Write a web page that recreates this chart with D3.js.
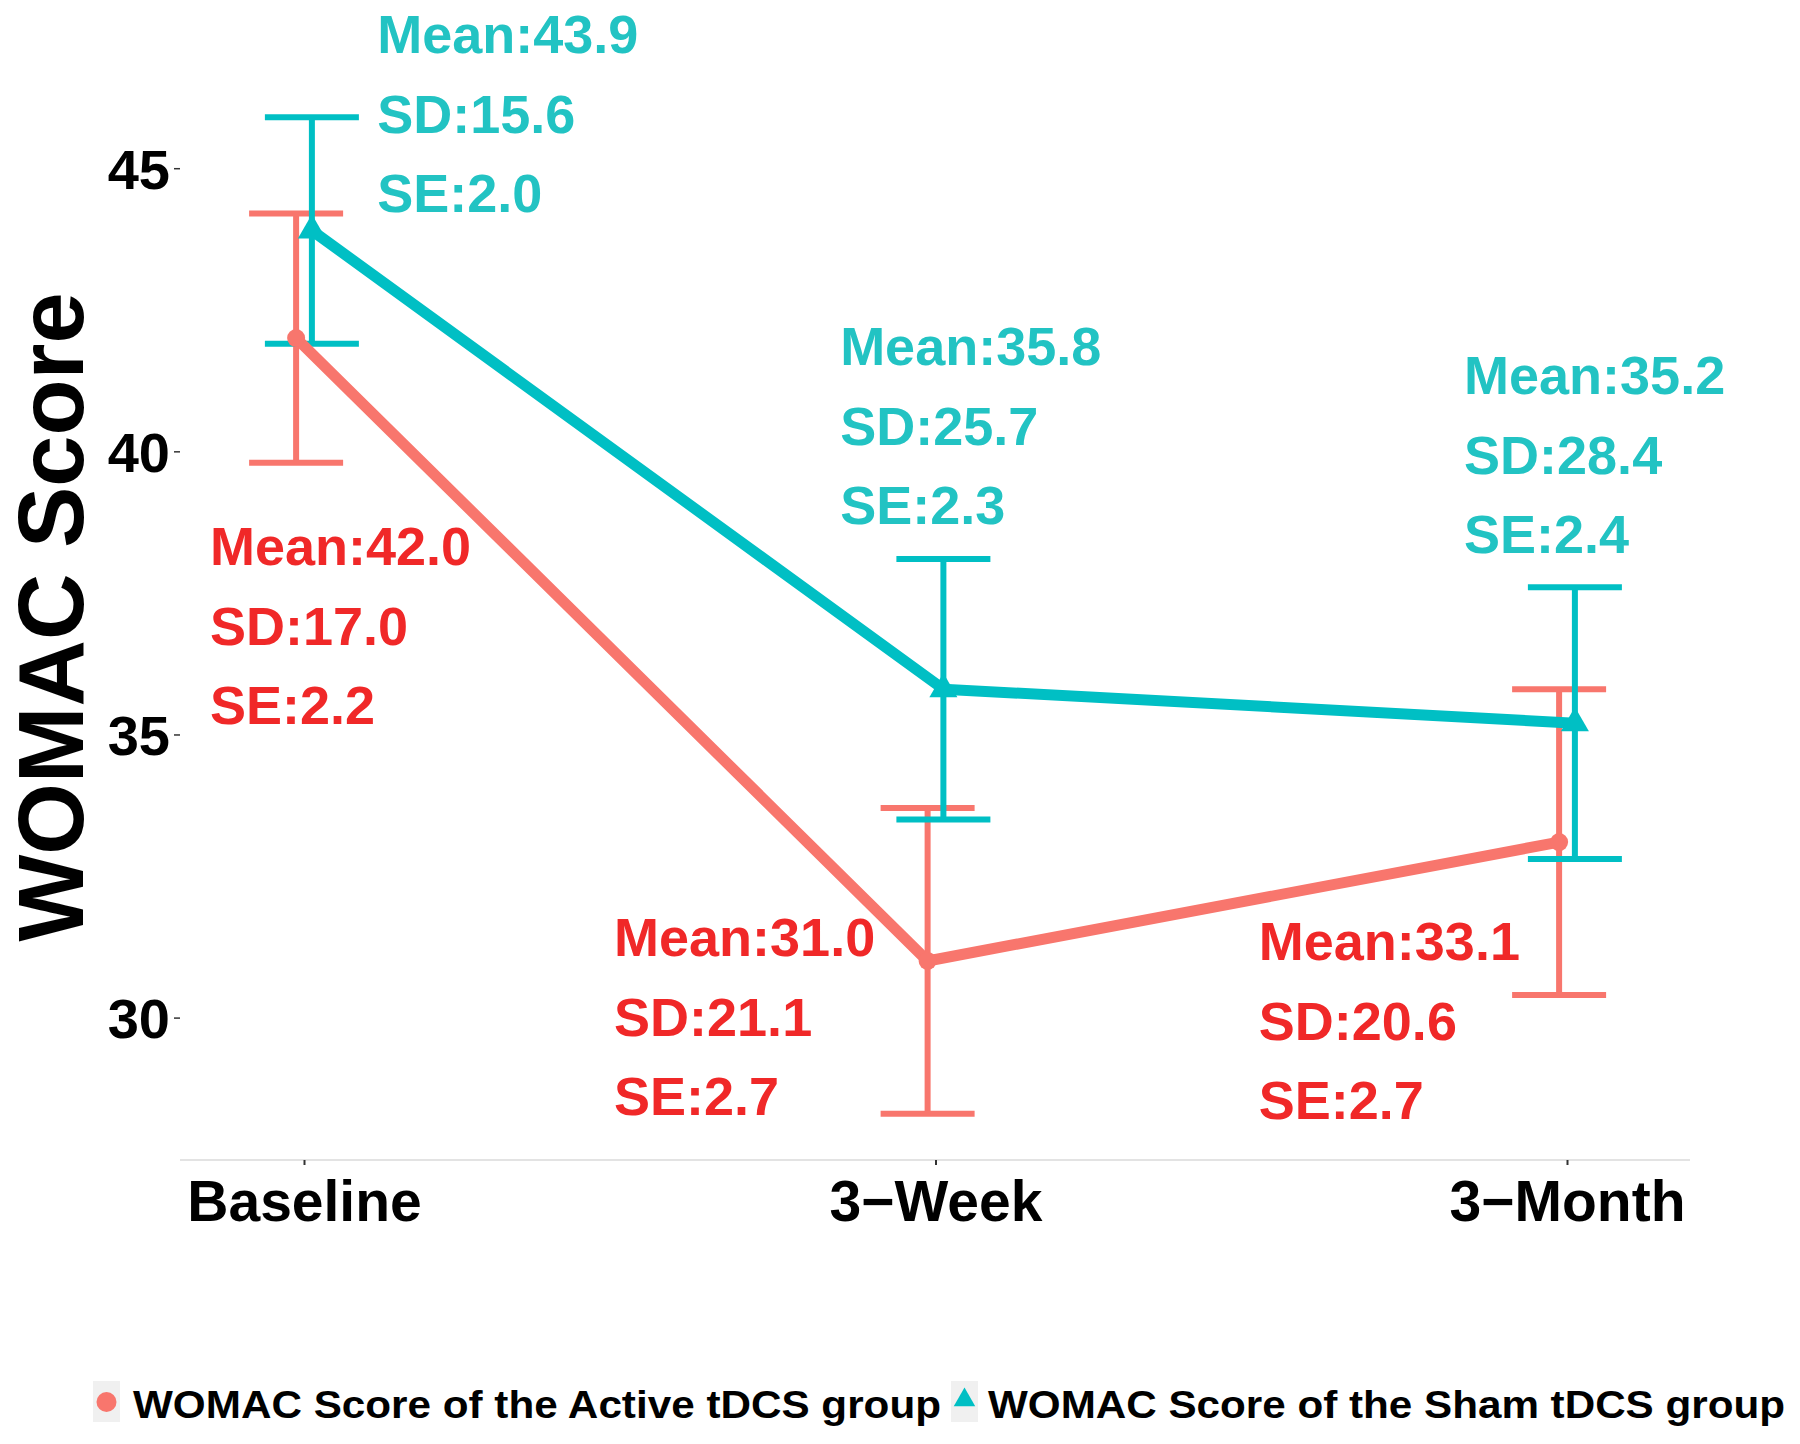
<!DOCTYPE html>
<html>
<head>
<meta charset="utf-8">
<script src="https://cdn.jsdelivr.net/npm/d3@7"></script>
<style>
  html, body { margin: 0; padding: 0; background: #ffffff; }
  svg text { font-family: "Liberation Sans", Arial, sans-serif; font-weight: bold; }
</style>
</head>
<body>
<svg id="chart" width="1800" height="1444"></svg>
<script>
// ---- data ----
const categories = ["Baseline", "3\u2212Week", "3\u2212Month"];
const activeMean = [42.0, 31.0, 33.1];
const activeSD   = [17.0, 21.1, 20.6];
const activeSE   = [2.2, 2.7, 2.7];
const shamMean   = [43.9, 35.8, 35.2];
const shamSD     = [15.6, 25.7, 28.4];
const shamSE     = [2.0, 2.3, 2.4];
const yTicks     = [30, 35, 40, 45];
const legendLabels = ["WOMAC Score of the Active tDCS group", "WOMAC Score of the Sham tDCS group"];
// annotation anchors in data units (x: category index, y: score)
const activeLabelX = [-0.149, 0.491, 1.512];
const activeLabelY = [37.99, 31.08, 31.01];
const shamLabelX   = [0.116, 0.849, 1.837];
const shamLabelY   = [47.03, 41.52, 41.01];

// ---- layout ----
const svg = d3.select("#chart");
const x = d3.scaleLinear().domain([0, 2]).range([304, 1567]);
const y = d3.scaleLinear().domain([30, 45]).range([1017.6, 168.2]);
const panelLeft = 180, panelRight = 1690, axisY = 1160;
const dodge = 0.0125;

const lineRed = "#F8766D", lineTeal = "#00BFC4";
const textRed = "#F02828", textTeal = "#22C3C3";

const series = [
  {name: "active", mean: activeMean, sd: activeSD, se: activeSE, off: -dodge, color: lineRed, tcol: textRed, lx: activeLabelX, ly: activeLabelY},
  {name: "sham", mean: shamMean, sd: shamSD, se: shamSE, off: dodge, color: lineTeal, tcol: textTeal, lx: shamLabelX, ly: shamLabelY}
];

// x axis line
svg.append("line").attr("x1", panelLeft).attr("x2", panelRight)
  .attr("y1", axisY).attr("y2", axisY).attr("stroke", "#E3E3E3").attr("stroke-width", 2);

const xAxis = d3.axisBottom(x).tickValues([0, 1, 2]).tickFormat(i => categories[i]).tickSize(5).tickPadding(9);
const gx = svg.append("g").attr("transform", `translate(0,${axisY})`).call(xAxis);
gx.select(".domain").remove();
gx.selectAll(".tick line").attr("stroke", "#333").attr("stroke-width", 2);
gx.selectAll(".tick text").attr("fill", "#000").attr("font-size", 57).attr("dy", "0.82em");

const yAxis = d3.axisLeft(y).tickValues(yTicks).tickSize(6).tickPadding(4);
const gy = svg.append("g").attr("transform", `translate(${panelLeft},0)`).call(yAxis);
gy.select(".domain").remove();
gy.selectAll(".tick line").attr("stroke", "#333").attr("stroke-width", 1.5);
gy.selectAll(".tick text").attr("fill", "#000").attr("font-size", 56).attr("dy", "0.36em");

// y title
svg.append("text").attr("transform", "translate(83,617) rotate(-90)")
  .attr("text-anchor", "middle").attr("font-size", 92).attr("fill", "#000").text("WOMAC Score");

// error bars
const capHalf = 47;
series.forEach(s => {
  const g = svg.append("g");
  s.mean.forEach((m, i) => {
    const cx = x(i + s.off);
    const lo = y(m - s.se[i]), hi = y(m + s.se[i]);
    g.append("line").attr("x1", cx).attr("x2", cx).attr("y1", lo).attr("y2", hi)
      .attr("stroke", s.color).attr("stroke-width", 6);
    [lo, hi].forEach(yy => g.append("line").attr("x1", cx - capHalf).attr("x2", cx + capHalf)
      .attr("y1", yy).attr("y2", yy).attr("stroke", s.color).attr("stroke-width", 6));
  });
});

// lines
const lineGen = d3.line().x(d => d.x).y(d => d.y);
series.forEach(s => {
  const pts = s.mean.map((m, i) => ({x: x(i + s.off), y: y(m)}));
  svg.append("path").attr("d", lineGen(pts)).attr("fill", "none")
    .attr("stroke", s.color).attr("stroke-width", 11).attr("stroke-linejoin", "round");
});

// points
series.forEach(s => {
  s.mean.forEach((m, i) => {
    const cx = x(i + s.off), cy = y(m);
    if (s.name === "active") {
      svg.append("circle").attr("cx", cx).attr("cy", cy).attr("r", 9).attr("fill", s.color);
    } else {
      svg.append("path").attr("transform", `translate(${cx},${cy})`)
        .attr("d", d3.symbol(d3.symbolTriangle, 340)()).attr("fill", s.color);
    }
  });
});

// annotations
series.forEach(s => {
  s.mean.forEach((m, i) => {
    const tx = x(s.lx[i]), ty = y(s.ly[i]);
    const lines = [`Mean:${m.toFixed(1)}`, `SD:${s.sd[i].toFixed(1)}`, `SE:${s.se[i].toFixed(1)}`];
    lines.forEach((t, k) => {
      svg.append("text").attr("x", tx).attr("y", ty + k * 79.5)
        .attr("font-size", 54).attr("fill", s.tcol).text(t);
    });
  });
});

// legend
const legend = [
  {label: legendLabels[0], color: lineRed, kind: "circle", boxX: 93, textX: 133, textW: 808},
  {label: legendLabels[1], color: lineTeal, kind: "triangle", boxX: 951, textX: 988, textW: 797}
];
legend.forEach(l => {
  svg.append("rect").attr("x", l.boxX).attr("y", 1381).attr("width", 27).attr("height", 41).attr("fill", "#F0F0F0");
  const kx = l.boxX + 13.5, ky = 1402;
  if (l.kind === "circle") {
    svg.append("circle").attr("cx", kx).attr("cy", ky).attr("r", 10).attr("fill", l.color);
  } else {
    svg.append("path").attr("transform", `translate(${kx},${ky - 2})`)
      .attr("d", d3.symbol(d3.symbolTriangle, 200)()).attr("fill", l.color);
  }
  svg.append("text").attr("x", l.textX).attr("y", 1418).attr("font-size", 38)
    .attr("textLength", l.textW).attr("lengthAdjust", "spacingAndGlyphs")
    .attr("fill", "#000").text(l.label);
});
</script>
</body>
</html>
